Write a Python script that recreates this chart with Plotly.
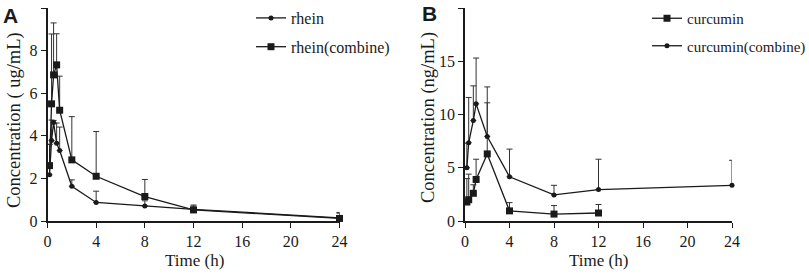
import plotly.graph_objects as go

# ---------------- Data ----------------
# Panel A (rhein, ug/mL)
time_a = [0.167, 0.333, 0.5, 0.75, 1, 2, 4, 8, 12, 24]
rhein = [2.17, 3.78, 4.62, 3.65, 3.31, 1.63, 0.87, 0.70, 0.55, 0.15]
rhein_err = [1.43, 0.96, 0.10, 0.95, 1.10, 0.30, 0.53, 0.25, 0.15, 0.22]
rhein_comb = [2.60, 5.50, 6.86, 7.33, 5.20, 2.87, 2.10, 1.15, 0.52, 0.12]
rhein_comb_err = [1.00, 3.28, 2.44, 1.46, 1.60, 2.03, 2.10, 0.80, 0.23, 0.28]

# Panel B (curcumin, ng/mL)
time_b1 = [0.167, 0.333, 0.75, 1, 2, 4, 8, 12]
curc = [1.78, 2.00, 2.60, 3.90, 6.30, 0.95, 0.65, 0.75]
curc_err = [2.20, 2.40, 0.80, 1.90, 4.80, 0.78, 0.80, 0.80]
time_b2 = [0.167, 0.333, 0.75, 1, 2, 4, 8, 12, 24]
curc_comb = [5.00, 7.35, 9.44, 11.00, 7.94, 4.15, 2.45, 2.95, 3.35]
curc_comb_err = [2.30, 4.25, 3.25, 4.30, 4.65, 2.60, 0.90, 2.85, 2.35]

x_ticks = [0, 4, 8, 12, 16, 20, 24]
ya_ticks = [0, 2, 4, 6, 8, 10]
yb_ticks = [0, 5, 10, 15, 20]

# ---------------- Figure ----------------
W, H = 809, 274
SERIF = "Liberation Serif, Times New Roman, serif"
INK = "#1a1a1a"


def px_x(p):
    return p / W


def px_y(p):
    return 1 - p / H


def series(x, y, err, name, symbol, size, xa, ya, legend):
    return go.Scatter(
        x=x, y=y, name=name, mode="lines+markers",
        line=dict(color=INK, width=1.3),
        marker=dict(symbol=symbol, size=size, color=INK),
        error_y=dict(type="data", symmetric=False, array=err,
                     arrayminus=[0] * len(err), color="#333333",
                     thickness=1, width=3),
        xaxis=xa, yaxis=ya, legend=legend, legendgroup=name,
        cliponaxis=False,
    )


fig = go.Figure()
fig.add_trace(series(time_a, rhein, rhein_err, "rhein", "circle", 5, "x", "y", "legend"))
fig.add_trace(series(time_a, rhein_comb, rhein_comb_err, "rhein(combine)", "square", 7, "x", "y", "legend"))
fig.add_trace(series(time_b1, curc, curc_err, "curcumin", "square", 7, "x2", "y2", "legend2"))
fig.add_trace(series(time_b2, curc_comb, curc_comb_err, "curcumin(combine)", "circle", 5, "x2", "y2", "legend2"))

axis_common = dict(
    showline=True, linecolor=INK, linewidth=1.5, showgrid=False, zeroline=False,
    ticks="outside", ticklen=5, tickwidth=1.3, tickcolor=INK, automargin=False,
    tickfont=dict(family=SERIF, size=16, color=INK),
)

y0, y1 = px_y(221), px_y(8)
fig.update_layout(
    width=W, height=H,
    margin=dict(l=0, r=0, t=0, b=0, autoexpand=False),
    paper_bgcolor="white", plot_bgcolor="white",
    showlegend=True,
    xaxis=dict(domain=[px_x(47.5), px_x(339.5)], range=[0, 24], tickvals=x_ticks,
               anchor="y", **axis_common),
    yaxis=dict(domain=[y0, y1], range=[0, 10], tickvals=ya_ticks, anchor="x", **axis_common),
    xaxis2=dict(domain=[px_x(465), px_x(732)], range=[0, 24], tickvals=x_ticks,
                anchor="y2", **axis_common),
    yaxis2=dict(domain=[y0, y1], range=[0, 20], tickvals=yb_ticks, anchor="x2", **axis_common),
    legend=dict(x=px_x(251), y=px_y(1), xanchor="left", yanchor="top",
                font=dict(family=SERIF, size=16, color=INK),
                bgcolor="rgba(0,0,0,0)", tracegroupgap=5, itemwidth=30),
    legend2=dict(x=px_x(647), y=px_y(2), xanchor="left", yanchor="top",
                 font=dict(family=SERIF, size=15, color=INK),
                 bgcolor="rgba(0,0,0,0)", tracegroupgap=5, itemwidth=30),
)

ann_font = dict(family=SERIF, size=17, color=INK)
title_font = dict(family=SERIF, size=18.5, color=INK)
common_ann = dict(xref="paper", yref="paper", showarrow=False,
                  xanchor="center", yanchor="middle")
fig.add_annotation(text="Time (h)", x=px_x(194), y=px_y(260), font=ann_font, **common_ann)
fig.add_annotation(text="Time (h)", x=px_x(598), y=px_y(260), font=ann_font, **common_ann)
fig.add_annotation(text="Concentration ( ug/mL)", x=px_x(14), y=px_y(120),
                   textangle=-90, font=title_font, **common_ann)
fig.add_annotation(text="Concentration (ng/mL)", x=px_x(428), y=px_y(118),
                   textangle=-90, font=title_font, **common_ann)
fig.add_annotation(text="<b>A</b>", x=px_x(1), y=px_y(2), xref="paper", yref="paper",
                   xanchor="left", yanchor="top", showarrow=False,
                   font=dict(family="Liberation Sans, Arial, sans-serif", size=21, color=INK))
fig.add_annotation(text="<b>B</b>", x=px_x(420), y=px_y(0), xref="paper", yref="paper",
                   xanchor="left", yanchor="top", showarrow=False,
                   font=dict(family="Liberation Sans, Arial, sans-serif", size=21, color=INK))

fig.write_html(
    "out.html",
    config={"displayModeBar": False},
    post_script="document.body.style.margin='0';document.body.style.padding='0';"
                "document.documentElement.style.overflow='hidden';",
)
